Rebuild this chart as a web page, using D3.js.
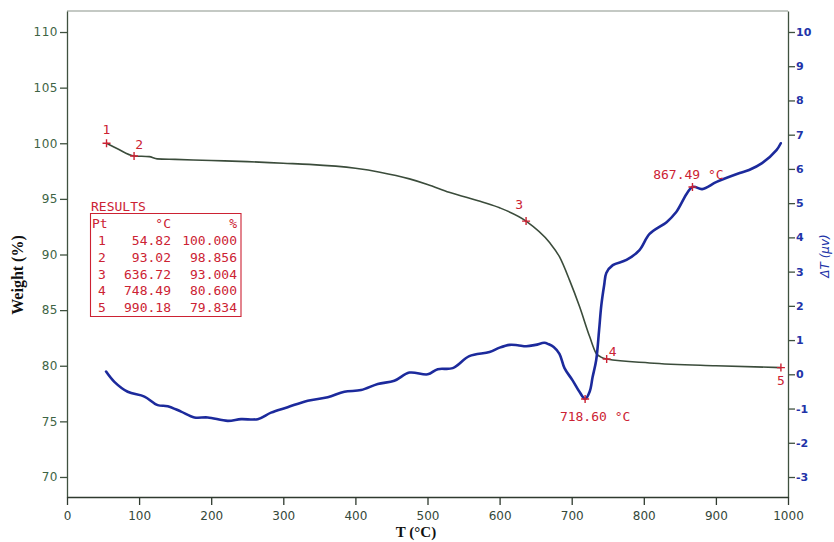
<!DOCTYPE html>
<html lang="en">
<head>
<meta charset="UTF-8">
<title>TG / DTA</title>
<script src="https://cdn.jsdelivr.net/npm/d3@7"></script>
<style>
  body { margin: 0; background: #fff; overflow: hidden; }
  svg { display: block; }
</style>
</head>
<body>
<svg id="chart" width="834" height="542"></svg>
<script>
// TG curve: temperature (°C) and weight (%)
const tgTemp   = [54.82, 70, 93.02, 114, 125, 150, 200, 250, 300, 336, 400, 434, 475, 500, 530, 577, 600, 636.72, 669, 683, 697, 711, 725, 734, 740, 748.49, 808, 900, 990.18];
const tgWeight = [100.0, 99.5, 98.856, 98.8, 98.6, 98.55, 98.45, 98.35, 98.2, 98.1, 97.75, 97.4, 96.8, 96.3, 95.6, 94.7, 94.2, 93.004, 91.1, 89.8, 87.7, 85.3, 82.6, 81.1, 80.8, 80.6, 80.25, 80.0, 79.834];

// DTA curve: temperature (°C) and ΔT (µV)
const dtaTemp  = [54.2, 65.7, 84.2, 107.4, 125.8, 139.7, 158.2, 176.7, 195.2, 222.9, 241.4, 264.5, 283, 306, 333.9, 361.6, 384.7, 407.9, 431, 454, 474.9, 500.3, 514.2, 535, 558, 586, 600, 614, 625, 637, 650, 662, 668, 675, 683, 690, 701, 711, 718.6, 725, 729, 734, 738, 741, 745, 748, 757, 776, 794, 808, 832, 845, 867.49, 881, 901, 933, 946, 964, 984, 990];
const dtaValue = [0.08, -0.22, -0.51, -0.65, -0.9, -0.93, -1.09, -1.26, -1.26, -1.36, -1.31, -1.31, -1.12, -0.96, -0.77, -0.67, -0.51, -0.46, -0.28, -0.19, 0.05, 0.0, 0.15, 0.18, 0.53, 0.65, 0.78, 0.86, 0.85, 0.82, 0.86, 0.92, 0.88, 0.8, 0.6, 0.18, -0.17, -0.52, -0.72, -0.5, -0.08, 0.42, 1.29, 2.0, 2.6, 2.96, 3.19, 3.34, 3.63, 4.1, 4.45, 4.74, 5.47, 5.41, 5.62, 5.88, 5.97, 6.17, 6.55, 6.75];

// results table
const resPt     = ["1", "2", "3", "4", "5"];
const resTemp   = ["54.82", "93.02", "636.72", "748.49", "990.18"];
const resWeight = ["100.000", "98.856", "93.004", "80.600", "79.834"];

// DTA peak annotations
const peakTemp  = [718.60, 867.49];
const peakValue = [-0.72, 5.47];
const peakLabel = ["718.60 °C", "867.49 °C"];

const xTicks = d3.range(0, 1001, 100);
const wTicks = d3.range(70, 111, 5);
const dTicks = d3.range(-3, 11, 1);

const svg = d3.select("#chart");
const mLeft = 67, mRight = 788, mTop = 11, mBottom = 497;

const x  = d3.scaleLinear().domain([0, 1000]).range([mLeft, mRight]);
const yW = d3.scaleLinear().domain([68.2, 111.89]).range([mBottom, mTop]);
const yD = d3.scaleLinear().domain([-3.584, 10.613]).range([mBottom, mTop]);

const red = "#cc2233", green = "#3d6444", blue = "#2233a8";
const plain = d => String(d);

// frame top
svg.append("line").attr("x1", mLeft).attr("x2", mRight).attr("y1", mTop).attr("y2", mTop)
    .attr("stroke", "#8a948a").attr("stroke-width", 1.2);

// axes
const gL = svg.append("g").attr("transform", `translate(${mLeft},0)`)
    .call(d3.axisLeft(yW).tickValues(wTicks).tickFormat(plain).tickSize(7).tickSizeOuter(0).tickPadding(2));
gL.selectAll("path, line").attr("stroke", "#3f513f").attr("stroke-width", 1.3);
gL.selectAll("text").attr("fill", green).style("font", "12px 'DejaVu Sans'").style("letter-spacing", "0.5px");

const gR = svg.append("g").attr("transform", `translate(${mRight},0)`)
    .call(d3.axisRight(yD).tickValues(dTicks).tickFormat(plain).tickSize(7).tickSizeOuter(0).tickPadding(1));
gR.selectAll("path, line").attr("stroke", "#3f513f").attr("stroke-width", 1.3);
gR.selectAll("text").attr("fill", blue).style("font", "bold 11px 'DejaVu Sans'");

const gB = svg.append("g").attr("transform", `translate(0,${mBottom})`)
    .call(d3.axisBottom(x).tickValues(xTicks).tickFormat(plain).tickSize(8).tickSizeOuter(0).tickPadding(6));
gB.selectAll("path, line").attr("stroke", "#2f3a2f").attr("stroke-width", 1.3);
gB.selectAll("text").attr("fill", "#34483a").style("font", "12px 'DejaVu Sans'");

// axis titles
svg.append("text").attr("transform", "translate(23,275) rotate(-90)")
    .attr("text-anchor", "middle").style("font", "bold 16px 'Liberation Serif'")
    .attr("fill", "#111").text("Weight (%)");
svg.append("text").attr("x", 416).attr("y", 537).attr("text-anchor", "middle")
    .style("font", "bold 15px 'Liberation Serif'").attr("fill", "#111").text("T (°C)");
svg.append("text").attr("transform", "translate(829,256) rotate(-90)")
    .attr("text-anchor", "middle").style("font", "italic 12px 'DejaVu Sans'")
    .attr("fill", blue).text("ΔT  (μv)");

// curves
const tg = tgTemp.map((t, i) => [t, tgWeight[i]]);
const dta = dtaTemp.map((t, i) => [t, dtaValue[i]]);

svg.append("path").datum(tg)
    .attr("d", d3.line().x(d => x(d[0])).y(d => yW(d[1])).curve(d3.curveMonotoneX))
    .attr("fill", "none").attr("stroke", "#3b4c3b").attr("stroke-width", 1.6);

svg.append("path").datum(dta)
    .attr("d", d3.line().x(d => x(d[0])).y(d => yD(d[1])).curve(d3.curveCatmullRom.alpha(0.5)))
    .attr("fill", "none").attr("stroke", "#1c2a9c").attr("stroke-width", 2.6)
    .attr("stroke-linecap", "round").attr("stroke-linejoin", "round");

// markers
function cross(cx, cy) {
    svg.append("path").attr("d", `M${cx - 4},${cy}H${cx + 4}M${cx},${cy - 4}V${cy + 4}`)
        .attr("stroke", red).attr("stroke-width", 1.4);
}
const ptOffset = [[0, -9], [5, -7], [-7, -12], [6, -3], [0, 17]];
resPt.forEach((p, i) => {
    const cx = x(+resTemp[i]), cy = yW(+resWeight[i]);
    cross(cx, cy);
    svg.append("text").attr("x", cx + ptOffset[i][0]).attr("y", cy + ptOffset[i][1])
        .attr("text-anchor", "middle").attr("fill", red)
        .style("font", "13px 'DejaVu Sans Mono'").text(p);
});
const peakOffset = [[10, 22], [-4, -8]];
peakTemp.forEach((t, i) => {
    const cx = x(t), cy = yD(peakValue[i]);
    cross(cx, cy);
    svg.append("text").attr("x", cx + peakOffset[i][0]).attr("y", cy + peakOffset[i][1])
        .attr("text-anchor", "middle").attr("fill", red)
        .style("font", "13px 'DejaVu Sans Mono'").text(peakLabel[i]);
});

// results table
const tbl = svg.append("g").attr("fill", red).style("font", "13px 'DejaVu Sans Mono'");
tbl.append("text").attr("x", 91).attr("y", 211).text("RESULTS");
svg.append("path").attr("d", "M90.5,213.5H241V316.5H90.5Z")
    .attr("fill", "none").attr("stroke", red).attr("stroke-width", 1.1);
tbl.append("text").attr("x", 92).attr("y", 228).text("Pt");
tbl.append("text").attr("x", 171).attr("y", 228).attr("text-anchor", "end").text("°C");
tbl.append("text").attr("x", 237).attr("y", 228).attr("text-anchor", "end").text("%");
resPt.forEach((p, i) => {
    const yy = 245 + i * 16.8;
    tbl.append("text").attr("x", 102).attr("y", yy).attr("text-anchor", "middle").text(p);
    tbl.append("text").attr("x", 171).attr("y", yy).attr("text-anchor", "end").text(resTemp[i]);
    tbl.append("text").attr("x", 237).attr("y", yy).attr("text-anchor", "end").text(resWeight[i]);
});
</script>
</body>
</html>
